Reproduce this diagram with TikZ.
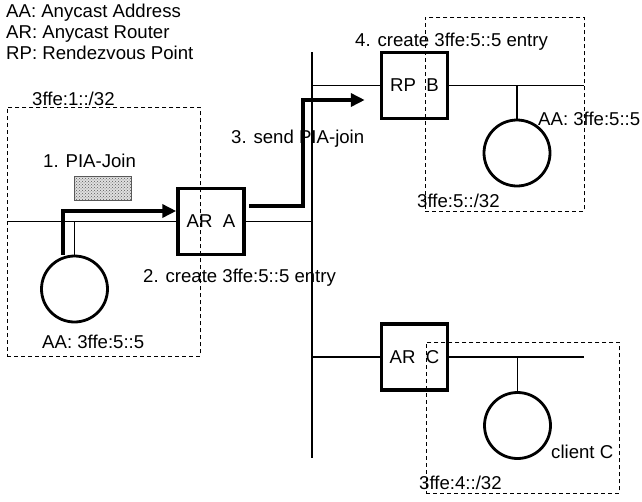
\documentclass[tikz,border=0pt]{standalone}
\usepackage{fontspec}
\setmainfont{Liberation Sans}
\usetikzlibrary{positioning, arrows.meta, calc, patterns}

\begin{document}
\begin{tikzpicture}[
    x=1pt, y=-1pt,
    font=\fontsize{18.6}{21}\selectfont,
    router/.style={rectangle, draw, line width=3.5pt, minimum size=66pt, inner sep=0pt},
    host/.style={circle, draw, line width=2.8pt, minimum size=66pt, inner sep=0pt},
    lan/.style={line width=1.5pt},
    flow/.style={line width=4pt, -{Triangle[length=14pt,width=13pt]}},
    subnet/.style={draw, line width=0.9pt, dash pattern=on 4pt off 3pt},
    txt/.style={anchor=base west, inner sep=0pt}
]
    \useasboundingbox (0,0) rectangle (642,501);

    % legend
    \node[txt] (leg1) at (6,17) {AA: Anycast Address};
    \node[txt] (leg2) at (6,38) {AR: Anycast Router};
    \node[txt] (leg3) at (6,59) {RP: Rendezvous Point};

    % subnets
    \node[subnet, minimum width=193pt, minimum height=249pt, anchor=north west] (netA) at (7,107) {};
    \node[subnet, minimum width=159pt, minimum height=194pt, anchor=north west] (netB) at (425,17) {};
    \node[subnet, minimum width=193pt, minimum height=151pt, anchor=north west] (netC) at (426,342) {};
    \node[txt] (netAlbl) at (32,105) {3ffe:1::/32};
    \node[txt] (netBlbl) at (417,207) {3ffe:5::/32};
    \node[txt] (netClbl) at (419,489) {3ffe:4::/32};

    % routers and hosts
    \node[router] (arA) at (211,221.5) {AR\ \ A};
    \node[router] (rpB) at (414.5,85.5) {RP\ \ B};
    \node[router] (arC) at (414.5,357) {AR\ \ C};
    \node[host] (hostA) at (74.5,289) {};
    \node[host] (hostB) at (517,153) {};
    \node[host] (hostC) at (517.5,425.5) {};

    \coordinate (lanA) at (7,221.5);
    \coordinate (lanB) at (584,85.5);
    \coordinate (lanC) at (584,357);
    \coordinate (bbTop) at (312,52);
    \coordinate (bbBot) at (312,458);

    % links
    \draw[lan] (bbTop) -- (bbBot);
    \draw[lan] (lanA) -- (arA.west);
    \draw[lan] (arA.east) -- (arA.east -| bbTop);
    \draw[lan] (bbTop |- rpB.west) -- (rpB.west);
    \draw[lan] (bbTop |- arC.west) -- (arC.west);
    \draw[lan] (rpB.east) -- (lanB);
    \draw[lan] (arC.east) -- (lanC);
    \draw[lan] (hostA.north) -- (hostA.north |- lanA);
    \draw[lan] (hostB.north) -- (hostB.north |- lanB);
    \draw[lan] (hostC.north) -- (hostC.north |- lanC);

    % PIA-join packet and path
    \node[rectangle, draw=gray!70!black, line width=1.5pt, preaction={fill=gray!25},
          pattern=crosshatch dots, pattern color=gray!70!black,
          minimum width=57pt, minimum height=24pt, inner sep=0pt] (pkt) at (103,188.5) {};
    \draw[flow] ($(hostA.north)+(-11.5,0)$) |- ($(arA.west)+(0,-10.5)$);
    \draw[flow] ($(arA.east)+(3,-15.5)$) -| ($(rpB.west)+(-77,14.5)$) -- ($(rpB.west)+(-15,14.5)$);

    % labels
    \node[txt] (step1) at (43,167) {1. PIA-Join};
    \node[txt] (step2) at (143,282) {2. create 3ffe:5::5 entry};
    \node[txt] (step3) at (231,143) {3. send PIA-join};
    \node[txt] (step4) at (355,46) {4. create 3ffe:5::5 entry};
    \node[txt] (aaA) at (42,348) {AA: 3ffe:5::5};
    \node[txt] (aaB) at (538,125) {AA: 3ffe:5::5};
    \node[txt] (cliC) at (551,458) {client C};
\end{tikzpicture}
\end{document}
